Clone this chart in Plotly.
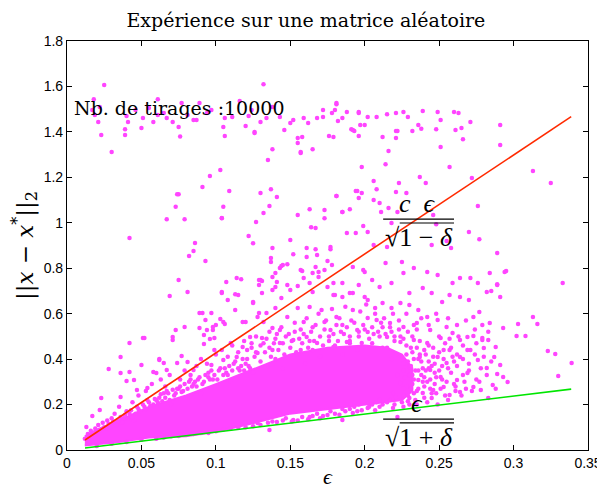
import plotly.graph_objects as go

# ---------------- data ----------------
# bound lines (eps, c*eps/sqrt(1-delta), eps/sqrt(1+delta))
eps_line = [0.0121, 0.3387]
bound_upper = [0.044, 1.467]
bound_lower = [0.0088, 0.268]

# dense core of the cloud: outline (eps, lower edge, upper edge)
core_eps = [0.012, 0.02, 0.035, 0.055, 0.08, 0.10, 0.12, 0.15, 0.175, 0.20, 0.215, 0.225, 0.232]
core_lo = [0.02, 0.025, 0.035, 0.055, 0.06, 0.08, 0.11, 0.16, 0.18, 0.20, 0.21, 0.22, 0.26]
core_hi = [0.06, 0.09, 0.13, 0.19, 0.24, 0.29, 0.34, 0.42, 0.45, 0.46, 0.45, 0.42, 0.36]

# sparse high-error draws (top band and upper area)
pts_high = [
    (0.025, 1.606), (0.132, 1.61), (0.017, 1.496), (0.021, 1.443), (0.030, 1.311), (0.039, 1.412),
    (0.042, 0.933), (0.050, 1.417), (0.061, 1.544), (0.076, 1.38), (0.067, 1.016), (0.074, 1.126),
    (0.073, 1.07), (0.091, 1.157), (0.096, 1.206), (0.103, 1.232), (0.105, 1.07), (0.109, 1.14),
    (0.104, 1.02), (0.116, 1.536), (0.126, 1.4), (0.135, 1.276), (0.138, 1.324), (0.130, 1.131),
    (0.137, 1.148), (0.141, 1.113), (0.132, 1.043), (0.122, 0.942), (0.125, 0.91), (0.127, 1.003),
    (0.150, 0.924), (0.155, 1.034), (0.163, 1.06), (0.164, 0.98), (0.167, 0.977), (0.173, 1.056),
    (0.173, 1.02), (0.181, 1.118), (0.185, 1.047), (0.190, 1.06), (0.188, 0.955), (0.194, 0.955),
    (0.194, 1.14), (0.196, 1.109), (0.155, 1.351), (0.157, 1.307), (0.165, 1.324), (0.155, 1.373),
    (0.179, 1.377), (0.176, 1.382),
    (0.0187, 1.474), (0.023, 1.386), (0.061, 1.474), (0.039, 1.386), (0.087, 1.452), (0.122, 1.47),
    (0.182, 1.448), (0.191, 1.412), (0.221, 1.404), (0.238, 1.414), (0.248, 1.412), (0.261, 1.408),
    (0.291, 1.342),
    (0.018, 1.544), (0.022, 1.509), (0.040, 1.47), (0.041, 1.443), (0.051, 1.461), (0.058, 1.443),
    (0.065, 1.483), (0.067, 1.461), (0.071, 1.443), (0.075, 1.421), (0.081, 1.474), (0.085, 1.452),
    (0.089, 1.527), (0.105, 1.421), (0.106, 1.461), (0.111, 1.465), (0.120, 1.426), (0.130, 1.443),
    (0.134, 1.461), (0.138, 1.509), (0.143, 1.465), (0.146, 1.408), (0.150, 1.439), (0.152, 1.452),
    (0.159, 1.461), (0.162, 1.439), (0.168, 1.461), (0.172, 1.465), (0.172, 1.496), (0.178, 1.483),
    (0.181, 1.527), (0.185, 1.461), (0.188, 1.487), (0.192, 1.408), (0.196, 1.483), (0.046, 1.496),
    (0.077, 1.527), (0.094, 1.483), (0.097, 1.496), (0.124, 1.496), (0.055, 1.505),
    (0.181, 1.522), (0.180, 1.496), (0.196, 1.487), (0.202, 1.465), (0.208, 1.465), (0.215, 1.478),
    (0.221, 1.483), (0.226, 1.487), (0.229, 1.465), (0.239, 1.492), (0.249, 1.487), (0.260, 1.487),
    (0.263, 1.483), (0.271, 1.443), (0.291, 1.43), (0.265, 1.417), (0.266, 1.368), (0.251, 1.452),
    (0.236, 1.43), (0.232, 1.404), (0.222, 1.404), (0.221, 1.373), (0.212, 1.377), (0.2, 1.43),
    (0.197, 1.43), (0.193, 1.404), (0.196, 1.382), (0.216, 1.316), (0.251, 1.333), (0.198, 1.245),
    (0.214, 1.258), (0.257, 1.245), (0.237, 1.201), (0.241, 1.175), (0.272, 1.197), (0.313, 1.228),
    (0.325, 1.175), (0.181, 1.118), (0.195, 1.14), (0.198, 1.131), (0.206, 1.184), (0.208, 1.148),
    (0.223, 1.175), (0.221, 1.135), (0.228, 1.131), (0.206, 1.1), (0.210, 1.087), (0.185, 1.047),
    (0.211, 1.047), (0.216, 1.065), (0.222, 1.047), (0.276, 1.074), (0.246, 1.034), (0.199, 0.986),
    (0.202, 0.959), (0.218, 0.999), (0.248, 0.994), (0.270, 0.959), (0.277, 0.928), (0.255, 0.92),
    (0.245, 0.902), (0.258, 0.889), (0.289, 0.867), (0.177, 0.893), (0.206, 0.902), (0.215, 0.893),
    (0.106, 1.382), (0.126, 1.395), (0.075, 1.126), (0.104, 1.021), (0.079, 1.016), (0.136, 1.074),
    (0.158, 1.377), (0.157, 1.311),
]

# moderate-error draws between the cloud and the upper bound
pts_mid = [
    (0.086, 0.911), (0.085, 0.876), (0.082, 0.854), (0.093, 0.832), (0.075, 0.748), (0.081, 0.695),
    (0.069, 0.678), (0.107, 0.739), (0.114, 0.757), (0.117, 0.752), (0.104, 0.695), (0.115, 0.682),
    (0.129, 0.748), (0.131, 0.744), (0.129, 0.726), (0.138, 0.889), (0.137, 0.845), (0.137, 0.827),
    (0.140, 0.779), (0.143, 0.801), (0.145, 0.814), (0.148, 0.818), (0.138, 0.761), (0.140, 0.717),
    (0.148, 0.726), (0.152, 0.862), (0.161, 0.889), (0.161, 0.849), (0.167, 0.884), (0.168, 0.858),
    (0.167, 0.805), (0.169, 0.783), (0.165, 0.779), (0.159, 0.757), (0.158, 0.788), (0.177, 0.884),
    (0.175, 0.832), (0.173, 0.792), (0.178, 0.814), (0.179, 0.735), (0.175, 0.717), (0.180, 0.682),
    (0.295, 0.788), (0.284, 0.779), (0.289, 0.73), (0.291, 0.673), (0.285, 0.7), (0.333, 0.735),
    (0.313, 0.585), (0.316, 0.554), (0.303, 0.554), (0.308, 0.502), (0.302, 0.502), (0.323, 0.436),
    (0.328, 0.422), (0.339, 0.383), (0.330, 0.326), (0.296, 0.299), (0.284, 0.559), (0.271, 0.757),
    (0.277, 0.607), (0.273, 0.502), (0.291, 0.374), (0.289, 0.334), (0.287, 0.409), (0.279, 0.484),
    (0.280, 0.449),
    (0.051, 0.493), (0.042, 0.471), (0.036, 0.409), (0.028, 0.356), (0.023, 0.229), (0.050, 0.374),
    (0.062, 0.4), (0.071, 0.484), (0.073, 0.528), (0.079, 0.541), (0.077, 0.414), (0.091, 0.603),
    (0.097, 0.603), (0.094, 0.528), (0.100, 0.55), (0.103, 0.576), (0.106, 0.554), (0.113, 0.686),
    (0.108, 0.66), (0.104, 0.691), (0.125, 0.651), (0.130, 0.748), (0.131, 0.691), (0.144, 0.81),
    (0.157, 0.792), (0.192, 0.805), (0.185, 0.735), (0.196, 0.726), (0.192, 0.691), (0.179, 0.682),
    (0.155, 0.722), (0.165, 0.695), (0.138, 0.704), (0.128, 0.585), (0.120, 0.563), (0.134, 0.603),
    (0.140, 0.625),
    (0.141, 0.739), (0.150, 0.704), (0.144, 0.669), (0.163, 0.735), (0.169, 0.761), (0.185, 0.673),
    (0.190, 0.691), (0.199, 0.792), (0.2, 0.673), (0.113, 0.616), (0.118, 0.563), (0.125, 0.647),
    (0.129, 0.603), (0.132, 0.563), (0.105, 0.563), (0.098, 0.528), (0.099, 0.493), (0.110, 0.471),
    (0.118, 0.453), (0.123, 0.497), (0.131, 0.493), (0.138, 0.537), (0.143, 0.528), (0.148, 0.585),
    (0.155, 0.625), (0.159, 0.563), (0.163, 0.629), (0.171, 0.616), (0.173, 0.563), (0.177, 0.528),
    (0.181, 0.585), (0.185, 0.55), (0.192, 0.616), (0.195, 0.528), (0.202, 0.581), (0.202, 0.519),
    (0.143, 0.471), (0.152, 0.484), (0.161, 0.497), (0.168, 0.471), (0.157, 0.44), (0.138, 0.44),
    (0.128, 0.427), (0.114, 0.409), (0.105, 0.396), (0.097, 0.374), (0.179, 0.453), (0.188, 0.475),
    (0.198, 0.471),
    (0.294, 0.783), (0.282, 0.695), (0.289, 0.726), (0.276, 0.735), (0.270, 0.66), (0.264, 0.757),
    (0.259, 0.735), (0.249, 0.77), (0.242, 0.783), (0.233, 0.801), (0.225, 0.827), (0.226, 0.779),
    (0.218, 0.735), (0.210, 0.717), (0.205, 0.748), (0.2, 0.783), (0.214, 0.823), (0.23, 0.691),
    (0.239, 0.713), (0.245, 0.691), (0.257, 0.682), (0.264, 0.673), (0.252, 0.651),
    (0.071, 0.497), (0.052, 0.493), (0.036, 0.339), (0.042, 0.343), (0.040, 0.304), (0.045, 0.308),
    (0.047, 0.264), (0.036, 0.233), (0.017, 0.15), (0.022, 0.176), (0.013, 0.101), (0.062, 0.396),
    (0.065, 0.383), (0.058, 0.343), (0.054, 0.273), (0.060, 0.339), (0.067, 0.352), (0.074, 0.383),
    (0.081, 0.387), (0.085, 0.352), (0.089, 0.603), (0.093, 0.572), (0.098, 0.541), (0.092, 0.506),
    (0.089, 0.537), (0.096, 0.488), (0.092, 0.466), (0.099, 0.44),
]

# right-hand tail of the cloud
pts_tail = [
    (0.293, 0.537), (0.288, 0.453), (0.283, 0.484), (0.279, 0.493), (0.273, 0.585), (0.269, 0.497),
    (0.264, 0.484), (0.259, 0.515), (0.255, 0.541), (0.249, 0.572), (0.242, 0.585), (0.236, 0.616),
    (0.23, 0.638), (0.224, 0.647), (0.218, 0.625), (0.212, 0.647), (0.207, 0.625), (0.202, 0.66),
    (0.208, 0.572), (0.217, 0.559), (0.226, 0.541), (0.235, 0.559), (0.244, 0.528), (0.251, 0.493),
    (0.242, 0.471), (0.233, 0.484), (0.224, 0.475), (0.215, 0.497), (0.271, 0.44), (0.264, 0.409),
    (0.257, 0.44), (0.276, 0.396), (0.282, 0.361), (0.269, 0.339), (0.262, 0.308), (0.253, 0.277),
    (0.246, 0.264), (0.239, 0.251), (0.230, 0.229), (0.251, 0.321), (0.244, 0.352), (0.255, 0.383),
    (0.249, 0.409), (0.237, 0.409), (0.23, 0.365), (0.236, 0.308), (0.224, 0.295), (0.219, 0.251),
    (0.210, 0.22), (0.202, 0.207), (0.222, 0.145), (0.278, 0.264), (0.283, 0.229), (0.293, 0.321),
    (0.286, 0.286), (0.273, 0.277), (0.264, 0.255), (0.257, 0.242), (0.245, 0.229),
    (0.228, 0.42), (0.232, 0.33), (0.240, 0.44), (0.226, 0.38), (0.236, 0.35), (0.231, 0.27),
    (0.242, 0.30), (0.218, 0.40), (0.222, 0.33), (0.212, 0.45), (0.235, 0.45), (0.247, 0.38),
    (0.228, 0.28), (0.232, 0.29), (0.236, 0.27), (0.23, 0.33), (0.234, 0.35), (0.24, 0.32),
    (0.244, 0.27), (0.247, 0.29), (0.25, 0.35), (0.243, 0.39), (0.237, 0.42), (0.229, 0.39),
    (0.226, 0.35), (0.233, 0.25),
    (0.226, 0.19), (0.229, 0.215), (0.231, 0.45), (0.233, 0.4), (0.235, 0.2), (0.237, 0.48),
    (0.239, 0.3), (0.241, 0.35), (0.242, 0.21), (0.243, 0.46), (0.245, 0.25), (0.246, 0.41),
    (0.248, 0.32), (0.249, 0.2), (0.25, 0.5), (0.251, 0.27), (0.252, 0.37), (0.253, 0.44),
    (0.255, 0.3), (0.256, 0.22), (0.257, 0.49), (0.258, 0.34), (0.259, 0.41), (0.261, 0.28),
    (0.262, 0.37), (0.263, 0.5), (0.265, 0.24), (0.266, 0.4), (0.267, 0.3), (0.269, 0.44),
    (0.27, 0.35), (0.272, 0.26), (0.274, 0.42), (0.275, 0.47), (0.277, 0.3), (0.278, 0.36),
    (0.28, 0.41), (0.282, 0.33), (0.285, 0.39), (0.288, 0.27),
]

# fringe of the cloud, just above and below the dense core
pts_fringe = [
    (0.136, 0.088), (0.128, 0.119), (0.120, 0.119), (0.112, 0.11), (0.152, 0.132), (0.163, 0.145),
    (0.175, 0.154), (0.185, 0.132), (0.192, 0.163), (0.202, 0.185), (0.141, 0.123),
    (0.03, 0.14), (0.04, 0.17), (0.045, 0.13), (0.06, 0.22), (0.065, 0.25), (0.07, 0.2),
    (0.075, 0.27), (0.085, 0.29), (0.09, 0.25), (0.095, 0.32), (0.105, 0.33), (0.11, 0.3),
    (0.115, 0.36), (0.12, 0.38), (0.125, 0.34), (0.135, 0.37), (0.14, 0.4), (0.145, 0.36),
    (0.155, 0.42), (0.16, 0.38), (0.165, 0.44), (0.17, 0.41), (0.18, 0.46), (0.185, 0.42),
    (0.19, 0.48), (0.195, 0.44), (0.205, 0.47), (0.21, 0.5), (0.215, 0.45), (0.22, 0.48),
    (0.04, 0.035), (0.06, 0.05), (0.07, 0.06), (0.085, 0.07), (0.095, 0.075), (0.105, 0.09),
    (0.115, 0.1), (0.125, 0.105), (0.135, 0.12), (0.145, 0.13), (0.155, 0.13), (0.165, 0.15),
    (0.17, 0.14), (0.18, 0.16), (0.19, 0.18), (0.195, 0.17), (0.205, 0.2), (0.21, 0.19),
    (0.215, 0.21), (0.22, 0.2),
    (0.025, 0.1), (0.028, 0.115), (0.033, 0.11), (0.038, 0.14), (0.042, 0.16), (0.044, 0.145),
    (0.048, 0.18), (0.052, 0.19), (0.055, 0.21), (0.058, 0.2), (0.062, 0.23), (0.064, 0.215),
    (0.068, 0.25), (0.072, 0.24), (0.074, 0.27), (0.078, 0.26), (0.082, 0.3), (0.084, 0.28),
    (0.088, 0.31), (0.092, 0.3), (0.095, 0.34), (0.098, 0.31), (0.102, 0.35), (0.106, 0.36),
    (0.108, 0.33), (0.112, 0.38), (0.116, 0.35), (0.118, 0.4), (0.122, 0.37), (0.126, 0.41),
    (0.13, 0.39), (0.133, 0.43), (0.137, 0.41), (0.142, 0.44), (0.146, 0.42), (0.15, 0.45),
    (0.154, 0.43), (0.158, 0.47), (0.162, 0.45), (0.166, 0.48), (0.172, 0.46), (0.176, 0.5),
    (0.182, 0.48), (0.186, 0.51), (0.19, 0.47), (0.196, 0.5), (0.2, 0.53), (0.206, 0.51),
    (0.212, 0.54), (0.218, 0.52), (0.224, 0.5), (0.228, 0.46), (0.232, 0.43), (0.238, 0.39),
    (0.243, 0.36), (0.247, 0.34), (0.252, 0.31), (0.256, 0.36), (0.26, 0.29), (0.266, 0.33),
    (0.27, 0.38), (0.275, 0.31), (0.268, 0.27), (0.261, 0.26), (0.254, 0.24), (0.248, 0.25),
    (0.24, 0.28), (0.235, 0.26), (0.229, 0.24), (0.226, 0.27), (0.233, 0.31), (0.238, 0.33),
    (0.244, 0.31), (0.227, 0.32), (0.231, 0.37), (0.236, 0.40), (0.241, 0.42), (0.246, 0.45),
    (0.25, 0.43), (0.254, 0.47), (0.258, 0.45), (0.262, 0.42), (0.266, 0.46), (0.253, 0.40),
    (0.26, 0.39), (0.245, 0.37), (0.239, 0.36),
    (0.032, 0.16), (0.035, 0.19), (0.044, 0.21), (0.048, 0.24), (0.053, 0.26), (0.057, 0.29),
    (0.063, 0.31), (0.066, 0.28), (0.069, 0.33), (0.076, 0.31), (0.079, 0.35), (0.083, 0.33),
    (0.087, 0.37), (0.09, 0.4), (0.094, 0.38), (0.1, 0.42), (0.104, 0.44), (0.108, 0.41),
    (0.111, 0.46), (0.115, 0.43), (0.119, 0.48), (0.124, 0.45), (0.127, 0.5), (0.132, 0.47),
    (0.136, 0.52), (0.14, 0.49), (0.144, 0.54), (0.149, 0.51), (0.153, 0.56), (0.157, 0.53),
    (0.161, 0.58), (0.165, 0.54), (0.169, 0.6), (0.174, 0.57), (0.178, 0.62), (0.183, 0.58),
    (0.187, 0.63), (0.191, 0.57), (0.197, 0.61), (0.201, 0.64), (0.207, 0.6), (0.213, 0.58),
    (0.219, 0.6), (0.223, 0.57), (0.228, 0.6), (0.233, 0.55), (0.238, 0.58), (0.243, 0.55),
    (0.248, 0.6), (0.256, 0.58), (0.262, 0.55), (0.268, 0.57), (0.274, 0.53), (0.279, 0.55),
    (0.283, 0.52),
    (0.13, 0.11), (0.138, 0.125), (0.147, 0.14), (0.151, 0.125), (0.158, 0.145), (0.162, 0.135),
    (0.168, 0.16), (0.172, 0.15), (0.177, 0.17), (0.183, 0.155), (0.187, 0.17), (0.193, 0.19),
    (0.198, 0.175), (0.203, 0.19), (0.208, 0.21), (0.212, 0.2), (0.217, 0.22), (0.221, 0.23),
    (0.225, 0.21), (0.23, 0.2), (0.234, 0.22), (0.24, 0.23), (0.226, 0.24), (0.219, 0.185),
    (0.207, 0.175), (0.196, 0.2), (0.185, 0.18),
    (0.022, 0.08), (0.026, 0.095), (0.029, 0.1), (0.031, 0.125), (0.034, 0.13), (0.036, 0.145),
    (0.037, 0.12), (0.039, 0.155), (0.041, 0.14), (0.043, 0.175), (0.046, 0.16), (0.047, 0.19),
    (0.049, 0.17), (0.051, 0.2), (0.053, 0.18), (0.054, 0.22), (0.056, 0.195), (0.059, 0.225),
    (0.061, 0.21), (0.063, 0.245), (0.066, 0.23), (0.067, 0.26), (0.069, 0.22), (0.071, 0.265),
    (0.073, 0.25), (0.076, 0.28), (0.077, 0.255), (0.079, 0.29), (0.081, 0.27), (0.083, 0.31),
    (0.086, 0.3), (0.087, 0.28), (0.089, 0.32), (0.091, 0.29), (0.093, 0.33), (0.096, 0.31),
    (0.097, 0.35), (0.099, 0.33), (0.101, 0.31), (0.103, 0.36), (0.107, 0.34), (0.109, 0.37),
    (0.111, 0.35), (0.113, 0.39), (0.117, 0.37), (0.119, 0.35), (0.121, 0.4), (0.123, 0.36),
    (0.014, 0.07), (0.016, 0.085), (0.019, 0.095), (0.021, 0.11), (0.015, 0.06), (0.018, 0.075),
    (0.024, 0.12), (0.027, 0.13), (0.012, 0.05),
    (0.02, 0.018), (0.03, 0.028), (0.05, 0.045), (0.065, 0.055), (0.075, 0.062), (0.09, 0.075),
    (0.1, 0.082), (0.11, 0.095), (0.12, 0.1),
    (0.121, 0.44), (0.124, 0.47), (0.127, 0.43), (0.13, 0.46), (0.134, 0.49), (0.136, 0.45),
    (0.139, 0.47), (0.141, 0.51), (0.145, 0.47), (0.147, 0.5), (0.151, 0.48), (0.153, 0.52),
    (0.156, 0.49), (0.159, 0.51), (0.163, 0.48), (0.164, 0.52), (0.167, 0.55), (0.17, 0.5),
    (0.173, 0.53), (0.176, 0.48), (0.179, 0.51), (0.181, 0.55), (0.184, 0.52), (0.188, 0.54),
    (0.19, 0.5), (0.193, 0.56), (0.196, 0.52), (0.199, 0.55), (0.203, 0.49), (0.205, 0.54),
    (0.209, 0.52), (0.211, 0.56), (0.214, 0.51), (0.217, 0.54), (0.22, 0.5), (0.223, 0.53),
    (0.226, 0.49), (0.229, 0.52), (0.232, 0.5), (0.235, 0.53),
]

x_ticks = [0, 0.05, 0.1, 0.15, 0.2, 0.25, 0.3, 0.35]
x_tick_text = ["0", "0.05", "0.1", "0.15", "0.2", "0.25", "0.3", "0.35"]
y_ticks = [0, 0.2, 0.4, 0.6, 0.8, 1.0, 1.2, 1.4, 1.6, 1.8]
y_tick_text = ["0", "0.2", "0.4", "0.6", "0.8", "1", "1.2", "1.4", "1.6", "1.8"]

# ---------------- styling ----------------
MAGENTA = "#ff45ff"
RED = "#ff2a00"
GREEN = "#00e600"
SERIF = "DejaVu Serif"
MATH = "Liberation Serif"
SANS = "Liberation Sans"

all_pts = pts_high + pts_mid + pts_tail + pts_fringe
px = [p[0] for p in all_pts]
py = [p[1] for p in all_pts]

fig = go.Figure()
fig.add_trace(go.Scatter(
    x=core_eps + core_eps[::-1], y=core_lo + core_hi[::-1],
    mode="lines", fill="toself", fillcolor=MAGENTA, line=dict(width=2, color=MAGENTA),
    hoverinfo="skip", showlegend=False))
fig.add_trace(go.Scatter(x=px, y=py, mode="markers",
                         marker=dict(size=4.5, color=MAGENTA, line=dict(width=0)),
                         showlegend=False))
fig.add_trace(go.Scatter(x=eps_line, y=bound_upper, mode="lines",
                         line=dict(color=RED, width=1.6), showlegend=False))
fig.add_trace(go.Scatter(x=eps_line, y=bound_lower, mode="lines",
                         line=dict(color=GREEN, width=1.6), showlegend=False))

axis_common = dict(showline=True, linecolor="black", linewidth=1.2, mirror="ticks",
                   ticks="inside", ticklen=5, tickcolor="black", showgrid=False,
                   zeroline=False, automargin=False,
                   tickfont=dict(family=SANS, size=14, color="black"))

fig.update_xaxes(range=[0, 0.35], tickvals=x_ticks, ticktext=x_tick_text,
                 title=dict(text="<i>ϵ</i>", font=dict(family=MATH, size=22, color="black"),
                            standoff=0), **axis_common)
fig.update_yaxes(range=[0, 1.8], tickvals=y_ticks, ticktext=y_tick_text,
                 title=dict(text="||<i>x</i> − <i>x</i><sup>*</sup>||<sub>2</sub>",
                            font=dict(family=SERIF, size=23, color="black"), standoff=13),
                 **axis_common)

# the page body has an 8px margin: the figure is shrunk by that amount so the
# plot area lands where the reference has it
fig.update_layout(
    width=597, height=481,
    margin=dict(l=59, r=17, t=33, b=39),
    plot_bgcolor="white", paper_bgcolor="white",
    title=dict(text="Expérience sur une matrice aléatoire", x=0.499, y=0.975,
               xanchor="center", yanchor="middle",
               font=dict(family=SERIF, size=19, color="black")),
)

ann_font = dict(family=MATH, size=26, color="black")
fig.add_annotation(x=0.0034, y=1.505, xref="x", yref="y", text="Nb. de tirages :10000",
                   showarrow=False, xanchor="left", yanchor="middle",
                   font=dict(family=SERIF, size=19, color="black"))
# upper bound label
fig.add_annotation(x=0.2355, y=1.087, text="<i>c</i>  <i>ϵ</i>", showarrow=False,
                   xanchor="center", yanchor="middle", font=ann_font)
fig.add_annotation(x=0.2365, y=0.935, text="√1 − <i>δ</i>", showarrow=False,
                   xanchor="center", yanchor="middle", font=ann_font)
# lower bound label
fig.add_annotation(x=0.2352, y=0.205, text="<i>ϵ</i>", showarrow=False,
                   xanchor="center", yanchor="middle", font=ann_font)
fig.add_annotation(x=0.2365, y=0.057, text="√1 + <i>δ</i>", showarrow=False,
                   xanchor="center", yanchor="middle", font=ann_font)
for ybar, yover in [(1.016, 0.999), (0.136, 0.119)]:
    fig.add_shape(type="line", x0=0.2124, x1=0.260, y0=ybar, y1=ybar,
                  line=dict(color="black", width=1.2))
    fig.add_shape(type="line", x0=0.2235, x1=0.260, y0=yover, y1=yover,
                  line=dict(color="black", width=1.2))

fig.write_html("out.html")
